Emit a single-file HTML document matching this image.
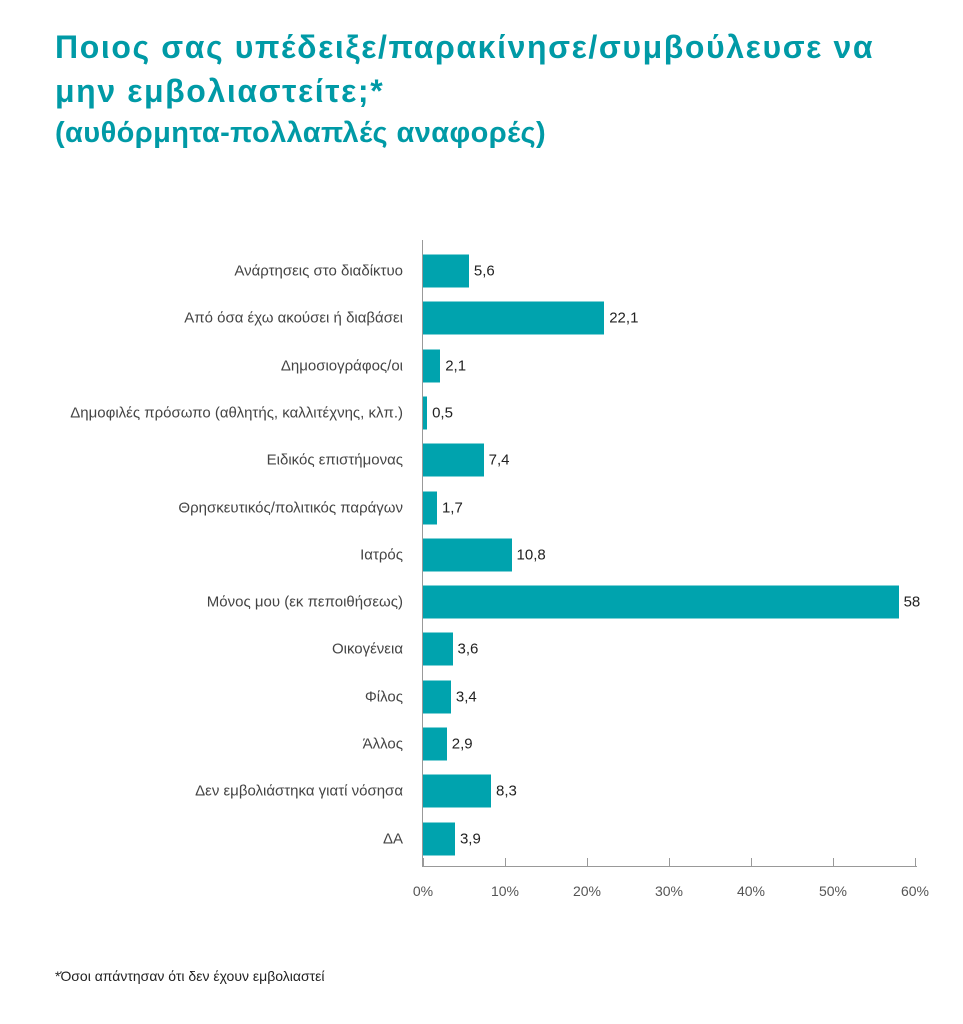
<!DOCTYPE html>
<html><head><meta charset="utf-8"><style>
body{margin:0;background:#fff;width:963px;height:1024px;position:relative;font-family:"Liberation Sans","DejaVu Sans",sans-serif;overflow:hidden}
.t{position:absolute;left:55px;color:#009aa6;font-weight:bold;font-size:32px;letter-spacing:1.6px;white-space:nowrap}
.lab{position:absolute;right:560px;font-size:15px;color:#444;white-space:nowrap;transform:translateY(-50%)}
.bar{position:absolute;left:423px;height:33px;background:#00a3ae;transform:translateY(-50%)}
.v{position:absolute;font-size:15px;color:#222;transform:translateY(-50%)}
.tick{position:absolute;top:858px;width:1px;height:9px;background:#999}
.tl{position:absolute;top:883px;font-size:14px;color:#555;transform:translateX(-50%)}
</style></head><body>
<div class="t" style="top:29px">Ποιος σας υπέδειξε/παρακίνησε/συμβούλευσε να</div>
<div class="t" style="top:73px">μην εμβολιαστείτε;*</div>
<div class="t" style="top:117px;font-size:29px;letter-spacing:0.4px">(αυθόρμητα-πολλαπλές αναφορές)</div>
<div style="position:absolute;left:422px;top:240px;width:1px;height:627px;background:#999"></div>
<div style="position:absolute;left:422px;top:866px;width:495px;height:1px;background:#999"></div>
<div id="c"></div>
<div style="position:absolute;left:55px;top:968px;font-size:14px;color:#222">*Όσοι απάντησαν ότι δεν έχουν εμβολιαστεί</div>
<script>
var d=[["Ανάρτησεις στο διαδίκτυο",5.6,"5,6"],["Από όσα έχω ακούσει ή διαβάσει",22.1,"22,1"],["Δημοσιογράφος/οι",2.1,"2,1"],["Δημοφιλές πρόσωπο (αθλητής, καλλιτέχνης, κλπ.)",0.5,"0,5"],["Ειδικός επιστήμονας",7.4,"7,4"],["Θρησκευτικός/πολιτικός παράγων",1.7,"1,7"],["Ιατρός",10.8,"10,8"],["Μόνος μου (εκ πεποιθήσεως)",58,"58"],["Οικογένεια",3.6,"3,6"],["Φίλος",3.4,"3,4"],["Άλλος",2.9,"2,9"],["Δεν εμβολιάστηκα γιατί νόσησα",8.3,"8,3"],["ΔΑ",3.9,"3,9"]];
var h="",s=8.2;
d.forEach(function(r,i){var y=271+i*47.3,w=r[1]*s;
h+='<div class="lab" style="top:'+y+'px">'+r[0]+'</div><div class="bar" style="top:'+y+'px;width:'+w+'px"></div><div class="v" style="top:'+y+'px;left:'+(423+w+5)+'px">'+r[2]+'</div>';});
for(var k=0;k<=6;k++){var x=423+k*10*s;h+='<div class="tick" style="left:'+x+'px"></div><div class="tl" style="left:'+x+'px">'+(k*10)+'%</div>';}
document.getElementById("c").innerHTML=h;
</script>
</body></html>
